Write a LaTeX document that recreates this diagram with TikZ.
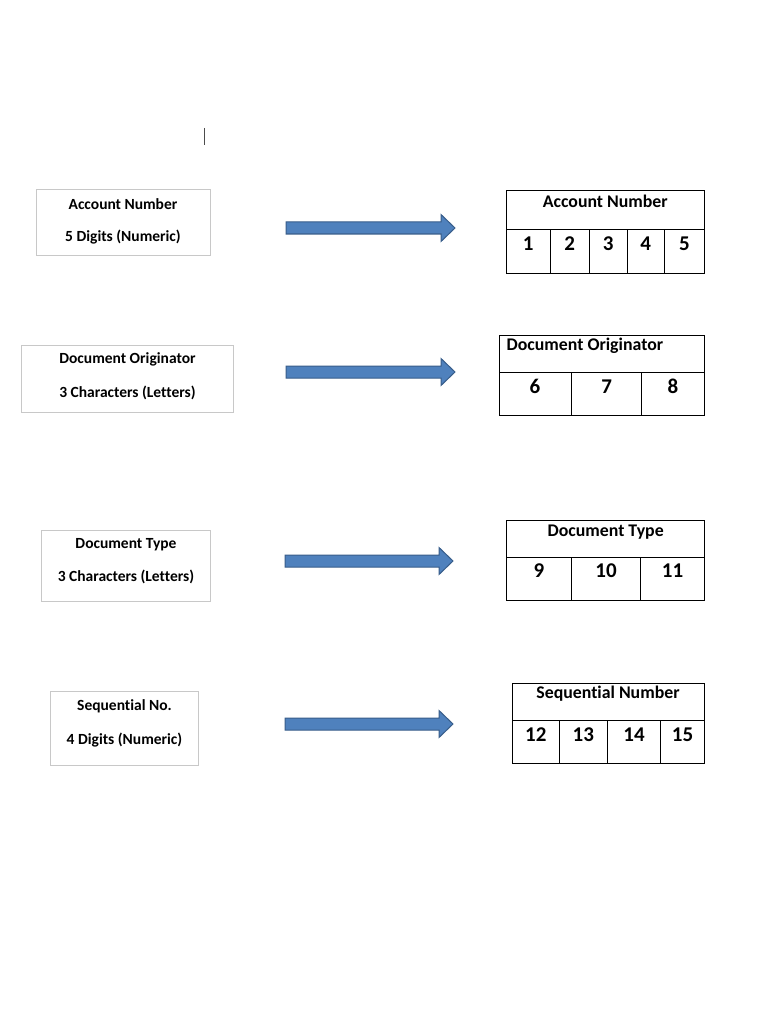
\documentclass[tikz,border=0pt]{standalone}
\usepackage{fontspec}
\setmainfont[Ligatures=NoCommon]{Carlito}
\definecolor{boxgray}{HTML}{C8C8C8}
\definecolor{arrowfill}{HTML}{4F81BD}
\definecolor{arrowline}{HTML}{385D8A}
\tikzset{
	srctext/.style={font=\bfseries\fontsize{15.5}{17}\selectfont, inner sep=0pt},
	tbltitle/.style={font=\bfseries\fontsize{17.8}{19}\selectfont, inner sep=0pt},
	tbldigit/.style={font=\bfseries\fontsize{21}{23}\selectfont, inner sep=0pt},
	srcbox/.style={draw=boxgray, line width=0.9pt},
	tblline/.style={draw=black, line width=1pt},
}
\newcommand{\blockarrow}[3] % x start, x tip, y centre (pixels)
{
	% shaft 12px high, head 27px high and 14px long
	\draw[fill=arrowfill, draw=arrowline, line width=1pt, line join=miter]
		(#1,#3-6) -- (#2-14,#3-6) -- (#2-14,#3-13.5) -- (#2,#3)
		-- (#2-14,#3+13.5) -- (#2-14,#3+6) -- (#1,#3+6) -- cycle;
}
\begin{document}
\begin{tikzpicture}[x=1pt, y=-1pt]
	% page: 768 x 1024 pixels, y grows downwards
	\useasboundingbox[fill=white] (0,0) rectangle (768,1024);
	% text cursor
	\draw[black!70, line width=0.7pt] (204,128) -- (204,145);

	% source boxes
	\draw[srcbox] (36,189) rectangle (210,255);
	\node[srctext] (acc-name) at (123,204) {Account Number};
	\node[srctext] (acc-len) at (123,237) {5 Digits (Numeric)};

	\draw[srcbox] (21.5,345) rectangle (233.5,412);
	\node[srctext] (org-name) at (127.5,359) {Document Originator};
	\node[srctext] (org-len) at (127.5,393) {3 Characters (Letters)};

	\draw[srcbox] (41.5,530) rectangle (210.5,601);
	\node[srctext] (typ-name) at (126,545) {Document Type};
	\node[srctext] (typ-len) at (126,577) {3 Characters (Letters)};

	\draw[srcbox] (50.5,691) rectangle (198.5,765);
	\node[srctext] (seq-name) at (124.5,706) {Sequential No.};
	\node[srctext] (seq-len) at (124.5,740) {4 Digits (Numeric)};

	% arrows
	\blockarrow{286}{455}{228};
	\blockarrow{286}{455}{372};
	\blockarrow{285}{453}{561};
	\blockarrow{285}{453}{724};

	% account number table
	\draw[tblline] (506,190.5) rectangle (704.5,273);
	\draw[tblline] (506,230) -- (704.5,230);
	\foreach \x in {550.5,589,627.3,664.3}
		\draw[tblline] (\x,230) -- (\x,273);
	\node[tbltitle] (acc-title) at (605.3,201.5) {Account Number};
	\foreach \d/\x in {1/528.3,2/569.8,3/608.2,4/645.8,5/684.4}
		\node[tbldigit] (acc-\d) at (\x,244) {\d};

	% document originator table
	\draw[tblline] (499,335.5) rectangle (704.5,415);
	\draw[tblline] (499,372.5) -- (704.5,372.5);
	\foreach \x in {571.7,641.7}
		\draw[tblline] (\x,372.5) -- (\x,415);
	\node[tbltitle, anchor=west] (org-title) at (506.5,345.7) {Document Originator};
	\foreach \d/\x in {6/535,7/606.7,8/673}
		\node[tbldigit] (org-\d) at (\x,386.5) {\d};

	% document type table
	\draw[tblline] (506.7,520.7) rectangle (704.5,600.7);
	\draw[tblline] (506.7,557.3) -- (704.5,557.3);
	\foreach \x in {571.7,640.7}
		\draw[tblline] (\x,557.3) -- (\x,600.7);
	\node[tbltitle] (typ-title) at (605.7,532) {Document Type};
	\foreach \d/\x in {9/539,10/606,11/672.6}
		\node[tbldigit] (typ-\d) at (\x,570.7) {\d};

	% sequential number table
	\draw[tblline] (512.3,683.3) rectangle (704.5,763.3);
	\draw[tblline] (512.3,720.7) -- (704.5,720.7);
	\foreach \x in {559.3,607.3,660.7}
		\draw[tblline] (\x,720.7) -- (\x,763.3);
	\node[tbltitle] (seq-title) at (608,694) {Sequential Number};
	\foreach \d/\x in {12/535.8,13/583.3,14/634,15/682.6}
		\node[tbldigit] (seq-\d) at (\x,735) {\d};
\end{tikzpicture}
\end{document}
